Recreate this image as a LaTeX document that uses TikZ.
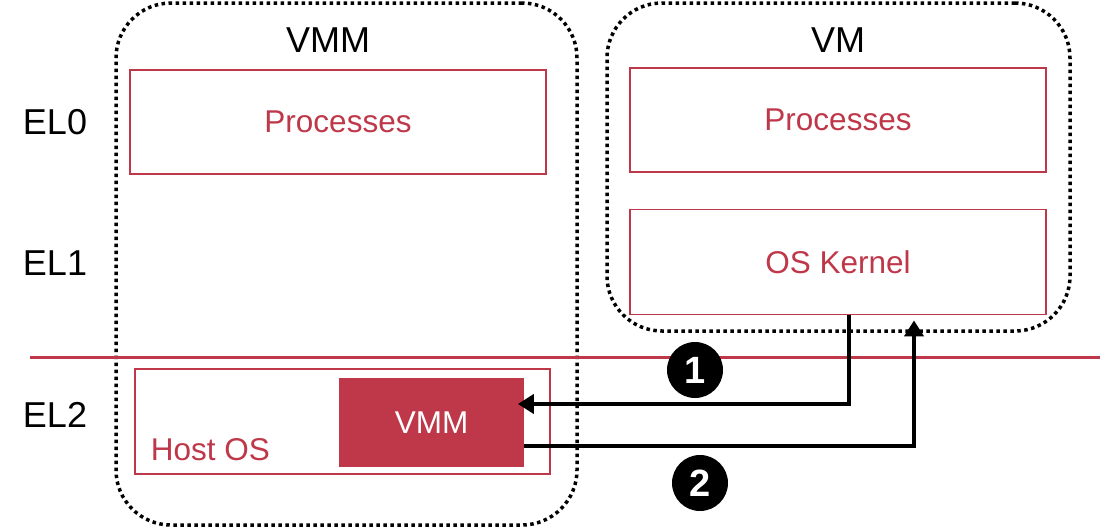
\documentclass[tikz,border=0pt]{standalone}
\usepackage{fontspec}
\setmainfont{Liberation Sans}
\usetikzlibrary{arrows.meta}
\definecolor{elred}{RGB}{190,56,74}

\begin{document}
\begin{tikzpicture}[x = 1pt, y = -1pt,
    every node/.style = {inner sep = 0pt},
    group/.style = {draw, line width = 3.5pt, dash pattern = on 3.5pt off 3.5pt,
        rounded corners = 55pt},
    redbox/.style = {draw = elred, line width = 1.8pt, text = elred,
        font = \fontsize{31.5}{34}\selectfont},
    level/.style = {font = \fontsize{36}{40}\selectfont},
    stepnum/.style = {circle, fill = black, text = white, minimum size = 56pt,
        font = \fontsize{38}{40}\selectfont\bfseries},
    flow/.style = {line width = 4.5pt, -{Triangle[length = 16pt, width = 19pt]}}]
    \useasboundingbox (0,0) rectangle (1104,530);
    % groups
    \node[group, minimum width = 461pt, minimum height = 522pt] (vmmgrp) at (346.5,264) {};
    \node[group, minimum width = 463pt, minimum height = 328pt] (vmgrp) at (838.5,167) {};
    \node[level] (vmmtitle) at (328,40) {VMM};
    \node[level] (vmtitle) at (838,40) {VM};
    % exception levels
    \node[level] (el0) at (55,122) {EL0};
    \node[level] (el1) at (55,263) {EL1};
    \node[level] (el2) at (55,415) {EL2};
    \draw[elred, line width = 3pt] (30,357) -- (1100,357);
    % boxes
    \node[redbox, minimum width = 416pt, minimum height = 104pt] (procL) at (338,122) {Processes};
    \node[redbox, minimum width = 416pt, minimum height = 104pt] (procR) at (838,120) {Processes};
    \node[redbox, minimum width = 416pt, minimum height = 105pt] (kernel) at (838,262) {OS Kernel};
    \node[redbox, minimum width = 415pt, minimum height = 105pt] (host) at (342.5,421.5) {};
    \node[redbox, draw = none, anchor = west] (hostlbl) at (150,450) {Host OS};
    \node[redbox, fill = elred, text = white, minimum width = 183pt, minimum height = 87pt] (vmm) at (431.5,422.5) {VMM};
    % traps
    \coordinate (a1) at (849,404);
    \coordinate (a2) at (914,446);
    \draw[flow, shorten > = -6pt] (kernel.south -| a1) -- (a1) -- (vmm.east |- a1);
    \draw[flow, shorten > = 5pt] (vmm.east |- a2) -- (a2) -- (kernel.south -| a2);
    \node[stepnum] (s1) at (695,370) {1};
    \node[stepnum] (s2) at (700,483) {2};
\end{tikzpicture}
\end{document}
